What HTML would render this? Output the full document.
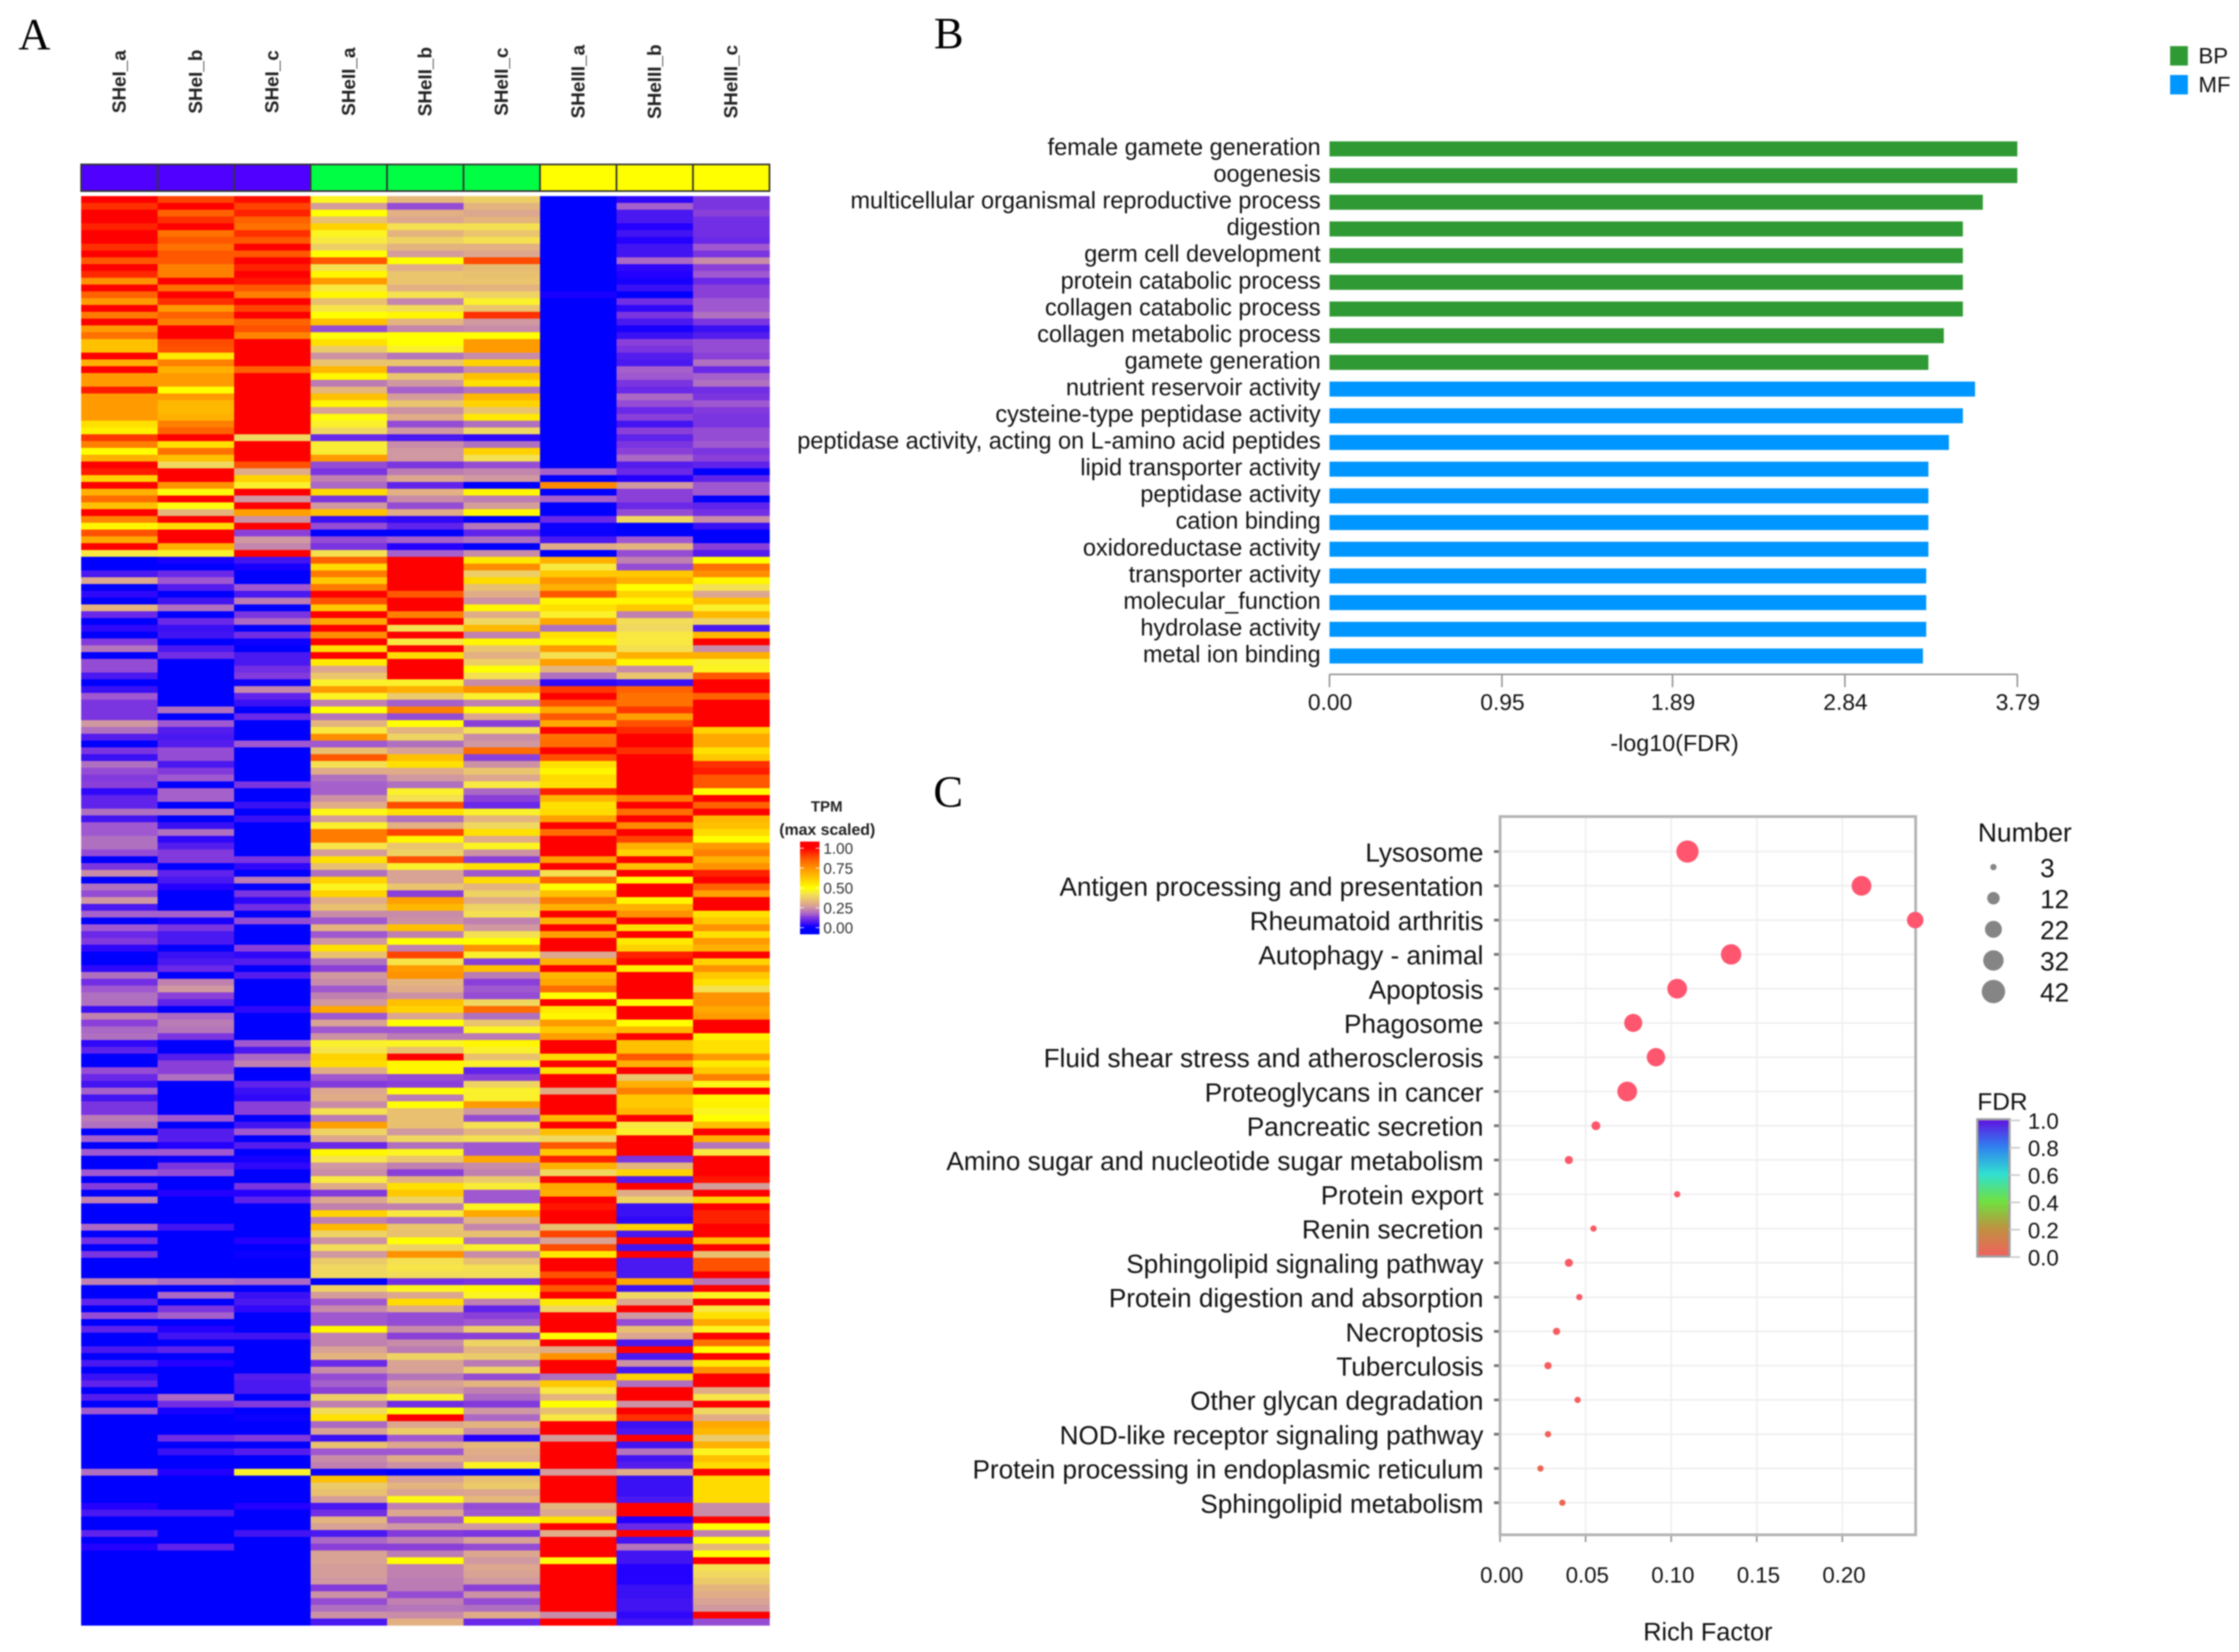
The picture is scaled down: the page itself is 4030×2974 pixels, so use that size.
<!DOCTYPE html>
<html lang="en">
<head>
<meta charset="utf-8">
<title>Heatmap, GO enrichment and KEGG dot plot</title>
<style>
html,body{margin:0;padding:0;background:#fff;}
#figure{display:block;width:4030px;height:2974px;font-family:"Liberation Sans",sans-serif;filter:blur(1.3px);}
.letter{font-family:"Liberation Serif",serif;font-size:80px;fill:#000;}
</style>
</head>
<body>
<svg id="figure" xmlns="http://www.w3.org/2000/svg" width="4030" height="2974" viewBox="0 0 4030 2974">
  <rect width="4030" height="2974" fill="#fff"/>
  <text class="letter" x="33" y="89">A</text>
  <text class="letter" x="1681" y="87">B</text>
  <text class="letter" x="1680" y="1452">C</text>
  <g id="panelA"></g>
  <g id="panelB"></g>
  <g id="panelC"></g>
  <text x="1488" y="1461" font-size="27" font-weight="bold" text-anchor="middle" fill="#222">TPM</text>
  <text x="1489" y="1503" font-size="28.5" font-weight="bold" text-anchor="middle" fill="#222">(max scaled)</text>
  <text x="3014" y="1352" font-size="42" text-anchor="middle" fill="#111">-log10(FDR)</text>
  <text x="3074" y="2953" font-size="45.5" text-anchor="middle" fill="#111">Rich Factor</text>
  <text x="3560" y="1515" font-size="47.5" fill="#111">Number</text>
  <text x="3559" y="1998" font-size="44" fill="#111">FDR</text>
</svg>
<script>
/* ---------- Panel A data ---------- */
const sampleLabels = ["SHeI_a","SHeI_b","SHeI_c","SHeII_a","SHeII_b","SHeII_c","SHeIII_a","SHeIII_b","SHeIII_c"];
const sampleGroupColors = ["#5000ff","#5000ff","#5000ff","#00ff44","#00ff44","#00ff44","#ffff00","#ffff00","#ffff00"];
const tpmLegendTicks = [1.00,0.75,0.50,0.25,0.00];
/* TPM (max scaled) x 100, one row per gene, one value per sample */
const tpmRows = [
[100,90,98,47,33,38,0,4,12],[93,100,90,27,15,32,0,17,12],[100,85,95,50,31,29,0,7,14],[100,93,85,35,29,32,0,7,11],
[95,100,82,60,42,42,0,3,11],[100,82,93,47,32,36,0,6,11],[100,87,87,44,39,42,0,3,10],[93,82,100,38,32,31,0,6,16],
[100,87,87,50,27,29,0,6,12],[87,87,100,87,50,89,0,18,24],[100,79,95,42,30,34,0,4,14],[94,79,100,52,36,35,0,3,16],
[75,100,97,73,36,36,0,2,10],[100,82,87,44,31,32,0,5,14],[85,100,79,52,42,39,2,0,14],[73,93,100,35,23,46,0,11,16],
[100,73,90,43,41,36,0,4,16],[80,85,100,50,52,93,0,12,19],[100,79,85,64,32,26,0,7,12],[73,100,88,15,23,24,0,2,5],
[82,100,78,49,50,50,0,5,8],[64,89,100,57,50,73,0,14,15],[64,88,100,37,46,73,0,12,15],[100,55,100,25,20,24,0,8,14],
[68,79,100,36,36,60,0,7,19],[100,68,85,66,17,24,0,17,10],[73,73,100,52,36,64,0,16,17],[73,73,100,21,26,57,0,12,19],
[96,50,100,33,17,20,0,10,11],[73,73,100,64,27,66,0,18,12],[73,66,100,52,36,60,0,15,16],[73,66,100,28,25,36,0,10,13],
[73,68,100,49,30,55,0,14,12],[57,79,100,46,15,19,0,6,12],[53,85,100,40,26,40,0,14,15],
[92,100,40,10,7,4,0,9,15],[79,57,100,45,24,19,0,12,16],[50,82,100,45,26,60,0,14,12],[68,64,100,73,26,42,0,18,14],
[100,40,88,15,12,15,0,8,9],[96,100,30,12,21,23,17,10,0],[60,100,60,22,29,26,0,3,9],[100,75,46,18,9,0,77,26,16],
[68,49,100,58,31,52,0,14,16],[83,100,26,12,24,21,17,14,0],[64,49,100,26,15,27,0,10,9],[100,32,72,64,30,52,0,15,11],
[78,100,25,5,4,0,10,40,24],[52,58,100,15,9,20,1,0,5],[88,100,14,0,0,9,1,0,0],[70,100,26,15,17,19,7,16,0],
[100,68,23,12,3,0,30,32,14],[44,46,100,42,17,24,0,15,8],[0,2,6,85,100,55,68,22,50],[0,0,2,58,100,76,44,15,82],
[7,10,0,80,100,38,62,62,76],[29,16,0,62,100,58,75,68,52],[0,8,16,80,100,35,68,50,42],[4,0,7,100,87,30,87,60,29],
[0,6,21,88,100,25,52,52,64],[32,19,0,62,100,52,57,62,46],[10,0,12,100,79,30,46,22,66],[0,10,18,70,100,40,70,41,39],
[4,5,0,100,42,66,19,40,7],[0,6,11,76,100,22,57,44,66],[13,0,1,100,44,52,52,44,100],[20,7,0,57,100,36,73,42,24],
[0,11,7,100,58,31,42,68,68],[15,0,7,55,100,38,72,52,46],[15,0,11,29,100,50,32,24,47],
[7,0,13,36,100,42,19,36,87],[0,0,1,46,46,24,4,5,100],[5,0,23,73,68,75,92,85,100],[16,0,9,47,37,46,100,82,85],
[12,0,5,22,17,22,88,82,100],[12,19,0,50,79,52,70,92,100],[12,0,10,20,15,29,87,72,100],[26,16,0,32,50,14,70,88,100],
[19,8,0,44,32,42,100,94,60],[8,7,0,76,39,24,82,100,70],[0,8,16,16,19,26,83,100,70],[12,15,0,35,28,83,100,93,57],
[5,15,0,87,64,14,88,100,62],[19,7,0,42,57,25,57,100,93],[15,13,0,30,30,36,52,100,96],[13,16,0,19,26,29,58,100,87],
[14,0,12,17,19,44,57,100,87],[4,17,0,17,46,18,95,100,50],[9,17,0,25,42,14,66,80,100],[9,0,5,30,89,10,57,100,85],
[19,19,0,48,57,46,58,83,100],[6,0,5,27,19,32,72,100,66],[16,5,0,46,31,40,100,77,64],[16,19,0,80,90,57,83,100,58],
[19,4,0,80,52,30,100,90,50],[19,8,0,43,36,47,100,68,73],[15,13,0,27,39,25,100,60,79],[0,13,12,57,88,14,72,100,68],
[12,0,4,35,46,57,100,64,75],[24,9,0,19,28,16,42,100,95],[0,7,21,60,28,58,85,50,100],[19,3,0,47,36,32,50,100,85],
[15,0,12,60,14,39,64,100,72],[26,0,4,30,72,30,80,52,100],[7,0,11,35,66,39,68,68,100],
[17,17,0,24,24,42,100,75,57],[0,2,15,16,25,22,68,100,62],[16,12,0,32,64,26,100,57,75],[10,7,0,16,22,42,72,100,57],
[13,7,0,26,50,50,100,55,73],[4,0,14,57,22,75,100,60,68],[0,5,4,35,90,46,29,95,100],[0,7,8,19,43,14,68,100,60],
[4,10,0,14,73,64,100,53,75],[19,0,8,26,75,21,66,100,62],[11,22,0,24,32,14,70,100,57],[16,26,0,16,30,16,83,100,42],
[19,14,0,22,25,15,50,100,75],[19,9,0,26,64,40,100,50,75],[5,0,4,70,60,83,55,100,70],[22,18,0,16,29,19,52,100,73],
[14,21,0,28,50,36,73,50,100],[18,20,0,16,16,47,62,66,100],[19,12,0,25,21,21,72,100,53],[4,0,16,46,47,52,100,64,57],
[9,0,7,43,35,46,100,64,57],[0,8,18,60,100,35,58,87,73],[0,14,22,58,52,46,100,68,55],[15,14,0,30,52,9,57,100,62],
[10,19,0,16,15,14,100,36,79],[6,0,9,13,14,39,100,68,48],[17,0,5,29,50,46,30,79,100],[6,0,4,30,21,46,100,62,52],
[12,0,14,24,50,73,100,62,53],[12,0,14,42,35,26,100,66,47],[21,16,0,21,35,15,66,100,50],[19,0,6,72,35,42,100,44,64],
[0,8,16,39,26,32,64,46,100],[17,8,0,29,40,42,40,100,68],[0,3,8,10,19,16,87,100,20],
[16,16,0,52,47,16,62,100,44],[0,1,2,43,36,70,95,12,100],[0,12,4,26,22,24,68,32,100],[16,15,0,24,14,22,40,60,100],
[0,0,0,44,32,37,100,8,97],[13,0,12,30,57,45,70,100,27],[0,3,3,13,62,16,68,30,100],[22,0,9,29,39,16,100,39,60],
[0,0,0,22,22,47,97,5,100],[0,0,0,60,44,70,100,5,95],[0,0,0,22,19,32,100,4,95],[18,6,0,66,36,23,35,60,100],
[0,0,0,39,35,35,90,7,100],[11,0,3,25,50,20,28,100,64],[0,0,0,41,39,46,89,6,100],[12,0,1,26,75,24,55,100,35],
[0,0,0,37,42,35,100,7,88],[0,0,0,40,43,42,100,7,88],[0,0,0,40,41,41,88,7,100],[22,19,18,0,11,12,100,70,20],
[0,0,0,39,47,52,87,6,100],[0,18,5,27,29,47,100,40,47],[9,0,7,16,58,22,55,29,100],[0,12,4,24,30,9,40,100,44],
[15,17,0,16,15,14,100,26,57],[0,0,0,16,15,16,100,15,70],[9,3,0,52,24,38,100,35,47],[0,6,6,22,14,14,50,29,100],
[0,0,0,22,24,39,100,7,82],[7,9,0,28,21,32,30,100,50],[0,0,0,32,39,37,75,7,100],[7,3,0,10,28,21,100,25,55],
[0,0,0,24,28,39,100,7,75],[5,0,8,15,20,15,19,60,100],[9,0,7,17,28,32,62,19,100],
[0,0,7,14,26,22,44,100,30],[8,18,0,38,46,18,32,100,43],[0,11,13,22,11,13,50,25,100],[16,2,0,41,50,26,35,100,40],
[0,0,1,57,100,18,44,93,30],[0,0,0,18,29,32,100,5,70],[0,0,0,28,38,24,100,7,66],[0,11,13,5,16,3,27,100,37],
[0,0,0,35,29,33,100,6,68],[0,5,8,16,16,30,100,20,47],[0,0,0,24,30,29,100,6,64],[0,0,0,22,25,47,100,8,58],
[19,3,46,1,0,0,27,30,100],[0,0,0,64,28,35,100,5,58],[0,0,0,37,32,37,100,5,58],[0,0,0,35,28,29,100,5,58],
[0,0,0,27,48,33,100,7,58],[3,0,3,7,22,15,32,100,24],[7,7,0,11,29,16,29,100,24],[0,0,0,32,16,52,57,3,100],
[0,0,0,28,26,26,100,10,50],[9,0,6,7,13,12,30,100,22],[0,0,0,18,22,28,100,6,50],[3,9,0,14,14,15,100,20,33],
[0,0,0,28,21,29,100,6,50],[0,0,0,28,50,26,49,6,100],[0,0,0,27,22,29,100,3,42],[0,0,0,27,22,28,100,3,40],
[0,0,0,26,21,26,100,3,37],[0,0,0,13,21,14,100,5,32],[0,0,0,25,15,25,100,5,30],[0,0,0,15,22,15,100,6,28],
[0,0,0,19,20,19,100,6,26],[0,0,0,25,24,30,24,4,100],[0,0,0,7,31,10,100,6,15]
];

/* ---------- Panel B data ---------- */
const goTerms = ["female gamete generation","oogenesis","multicellular organismal reproductive process","digestion","germ cell development","protein catabolic process","collagen catabolic process","collagen metabolic process","gamete generation","nutrient reservoir activity","cysteine-type peptidase activity","peptidase activity, acting on L-amino acid peptides","lipid transporter activity","peptidase activity","cation binding","oxidoreductase activity","transporter activity","molecular_function","hydrolase activity","metal ion binding"];
const goClasses = ["BP","BP","BP","BP","BP","BP","BP","BP","BP","MF","MF","MF","MF","MF","MF","MF","MF","MF","MF","MF"];
const goValues = [3.79,3.79,3.60,3.49,3.49,3.49,3.49,3.385,3.30,3.557,3.49,3.413,3.30,3.30,3.30,3.30,3.288,3.288,3.288,3.27];
const goTicks = [0.00,0.95,1.89,2.84,3.79];
const goLegend = ["BP","MF"];

/* ---------- Panel C data ---------- */
const keggTerms = ["Lysosome","Antigen processing and presentation","Rheumatoid arthritis","Autophagy - animal","Apoptosis","Phagosome","Fluid shear stress and atherosclerosis","Proteoglycans in cancer","Pancreatic secretion","Amino sugar and nucleotide sugar metabolism","Protein export","Renin secretion","Sphingolipid signaling pathway","Protein digestion and absorption","Necroptosis","Tuberculosis","Other glycan degradation","NOD-like receptor signaling pathway","Protein processing in endoplasmic reticulum","Sphingolipid metabolism"];
const richFactors = [0.1095,0.2112,0.2426,0.135,0.1035,0.0778,0.0911,0.0743,0.056,0.0402,0.1035,0.0546,0.0402,0.0463,0.033,0.028,0.0453,0.028,0.0236,0.0364];
const geneCounts = [38,30,21,32,30,25,26,30,6,5,3,3,5,3,4,4,3,3,3,3];
const fdrValues = [0.001,0.001,0.001,0.001,0.001,0.002,0.002,0.002,0.005,0.01,0.01,0.012,0.012,0.014,0.02,0.02,0.02,0.03,0.04,0.04];
const richTicks = [0.00,0.05,0.10,0.15,0.20];
const sizeLegendValues = [3,12,22,32,42];
const fdrLegendTicks = [1.0,0.8,0.6,0.4,0.2,0.0];

/* ---------- Helpers ---------- */
const NS = "http://www.w3.org/2000/svg";
function mk(tag, parent, props) {
  const el = document.createElementNS(NS, tag);
  for (const k in props) el.setAttribute(k, props[k]);
  parent.appendChild(el);
  return el;
}
function hexRgb(h){return [parseInt(h.slice(1,3),16),parseInt(h.slice(3,5),16),parseInt(h.slice(5,7),16)];}
const heatStops = [0,3,5,7,10,14,16,19,22,26,30,35,40,44,50,57,62,70,79,87,93,100];
const heatStopColors = ["#0000ff","#2400ff","#3a10f4","#4a18f0","#6a28e8","#8a40d8","#a058d0","#b070c0","#c080b0","#d098a0","#e0ac88","#e8c070","#f0d860","#f8e840","#ffff00","#ffe000","#ffc800","#ffa800","#ff8000","#ff5800","#ff3000","#ff0000"];
function heatColor(v){
  let i = 0;
  while (i < heatStops.length - 2 && v > heatStops[i+1]) i++;
  const t = Math.max(0, Math.min(1, (v - heatStops[i]) / (heatStops[i+1] - heatStops[i])));
  const a = hexRgb(heatStopColors[i]), b = hexRgb(heatStopColors[i+1]);
  return "rgb(" + a.map((c,n)=>Math.round(c + (b[n]-c)*t)).join(",") + ")";
}
const defs = mk("defs", document.getElementById("figure"), {});

/* ---------- Panel A ---------- */
(function(){
  const g = document.getElementById("panelA");
  const colW = (1385-146)/sampleLabels.length;
  const rowH = (2926-353)/tpmRows.length;
  const xH = j => 146 + j*colW;
  const yH = i => 353 + i*rowH;
  sampleLabels.forEach((s,j)=>{
    const cx = xH(j)+colW/2 + 11;
    const t = mk("text", g, {x:cx, y:147, "font-size":34, "font-weight":"bold", "text-anchor":"middle", fill:"#222", transform:"rotate(-90 "+cx+" 147)"});
    t.textContent = s;
    
    
    const h = mk("rect", g, {x:xH(j), y:296, width:colW, height:48, fill:sampleGroupColors[j], stroke:"#333", "stroke-width":3});
    
    
  });
  tpmRows.forEach((row,i)=>{
    row.forEach((v,j)=>{
      const r = mk("rect", g, {x:xH(j), y:yH(i), width:colW+0.5, height:rowH+0.5, fill:heatColor(v)});
      
      
    });
  });
  /* TPM legend */
  const lg = mk("linearGradient", defs, {id:"tpmGrad", x1:0, y1:1, x2:0, y2:0});
  const yL = v => 1670 - v*143;
  const barTop = 1515, barBot = 1682;
  for (let p=-8; p<=108; p+=2){
    const y = yL(p/100);
    const off = (barBot - y)/(barBot-barTop);
    if (off<0||off>1) continue;
    mk("stop", lg, {offset:off, "stop-color":heatColor(Math.max(0,Math.min(100,p)))});
  }
  const bar = mk("rect", g, {x:1440, y:barTop, width:35, height:barBot-barTop, fill:"url(#tpmGrad)"});
  
  
  tpmLegendTicks.forEach(v=>{
    const y = yL(v);
    const a = mk("line", g, {x1:1440,x2:1447,y1:y,y2:y,stroke:"#fff","stroke-opacity":0.7,"stroke-width":2});
    
    
    const b = mk("line", g, {x1:1468,x2:1475,y1:y,y2:y,stroke:"#fff","stroke-opacity":0.7,"stroke-width":2});
    
    
    const t = mk("text", g, {x:1482, y:y+10, "font-size":27.5, fill:"#333"});
    t.textContent = v.toFixed(2);
    
    
  });
})();

/* ---------- Panel B ---------- */
(function(){
  const g = document.getElementById("panelB");
  const classColor = {BP:"#2f9a33", MF:"#0096ff"};
  const xB = v => 2393 + v/3.79*1238;
  const yB = i => 268 + i*48.05;
  goTerms.forEach((term,i)=>{
    const t = mk("text", g, {x:2377, y:yB(i)+11, "font-size":42.3, "text-anchor":"end", fill:"#111"});
    t.textContent = term;
    
    
    const r = mk("rect", g, {x:xB(0), y:yB(i)-13.5, width:xB(goValues[i])-xB(0), height:27, fill:classColor[goClasses[i]]});
    
    
  });
  const ax = mk("line", g, {x1:xB(0), x2:xB(3.79), y1:1214, y2:1214, stroke:"#999", "stroke-width":3});
  
  
  goTicks.forEach(v=>{
    const l = mk("line", g, {x1:xB(v), x2:xB(v), y1:1214, y2:1237, stroke:"#999", "stroke-width":3});
    
    
    const t = mk("text", g, {x:xB(v)+1, y:1278, "font-size":41, "text-anchor":"middle", fill:"#111"});
    t.textContent = v.toFixed(2);
    
    
  });
  goLegend.forEach((c,i)=>{
    const r = mk("rect", g, {x:3906, y:83+i*52, width:32, height:35, fill:classColor[c]});
    
    
    const t = mk("text", g, {x:3957, y:114+i*52, "font-size":40, fill:"#111"});
    t.textContent = c;
    
    
  });
})();

/* ---------- Panel C ---------- */
(function(){
  const g = document.getElementById("panelC");
  const xC = v => 2700 + v/0.05*154;
  const yC = i => 1533 + i*61.7;
  const rC = n => 3.25*Math.sqrt(n);
  const fdrColor = f => {
    const t = Math.min(1, f/0.04);
    const a = [255,85,112], b = [236,100,80];
    return "rgb(" + a.map((c,n)=>Math.round(c+(b[n]-c)*t)).join(",") + ")";
  };
  keggTerms.forEach((term,i)=>{
    const grid = mk("line", g, {x1:2700, x2:3448, y1:yC(i), y2:yC(i), stroke:"#efefef", "stroke-width":3});
    
    
    const tk = mk("line", g, {x1:2689, x2:2700, y1:yC(i), y2:yC(i), stroke:"#777", "stroke-width":5});
    
    
    const t = mk("text", g, {x:2670, y:yC(i)+18, "font-size":47, "text-anchor":"end", fill:"#111"});
    t.textContent = term;
    
    
  });
  richTicks.forEach(v=>{
    const grid = mk("line", g, {x1:xC(v), x2:xC(v), y1:1470, y2:2761, stroke:"#efefef", "stroke-width":3});
    
    
    const l = mk("line", g, {x1:xC(v), x2:xC(v), y1:2761, y2:2776, stroke:"#999", "stroke-width":3});
    
    
    const t = mk("text", g, {x:xC(v)+3, y:2849, "font-size":40, "text-anchor":"middle", fill:"#111"});
    t.textContent = v.toFixed(2);
    
    
  });
  const box = mk("rect", g, {x:2700, y:1470, width:748, height:1293, fill:"none", stroke:"#b4b4b4", "stroke-width":5});
  
  
  richFactors.forEach((v,i)=>{
    const c = mk("circle", g, {cx:xC(v), cy:yC(i), r:rC(geneCounts[i]), fill:fdrColor(fdrValues[i])});
    
    
  });
  sizeLegendValues.forEach((n,i)=>{
    const y = 1561 + i*56;
    const c = mk("circle", g, {cx:3588, cy:y, r:rC(n), fill:"#858585"});
    
    
    const t = mk("text", g, {x:3672, y:y+18, "font-size":47, fill:"#111"});
    t.textContent = n;
    
    
  });
  const lg = mk("linearGradient", defs, {id:"fdrGrad", x1:0, y1:1, x2:0, y2:0});
  const fdrGradStops = [[0,"#f26060"],[0.2,"#c09040"],[0.4,"#70e040"],[0.6,"#30e0d0"],[0.8,"#3080f0"],[1,"#6010e0"]];
  fdrGradStops.forEach(s=>{ mk("stop", lg, {offset:s[0], "stop-color":s[1]}); });
  const bar = mk("rect", g, {x:3559, y:2015, width:58, height:247, fill:"url(#fdrGrad)", stroke:"#a0a0a0", "stroke-width":4});
  
  
  const yF = v => 2263 - v*246;
  fdrLegendTicks.forEach(v=>{
    const l = mk("line", g, {x1:3617, x2:3636, y1:yF(v), y2:yF(v), stroke:"#ccc", "stroke-width":3});
    
    
    const t = mk("text", g, {x:3650, y:yF(v)+15, "font-size":40, fill:"#111"});
    t.textContent = v.toFixed(1);
    
    
  });
})();
</script>
</body>
</html>
